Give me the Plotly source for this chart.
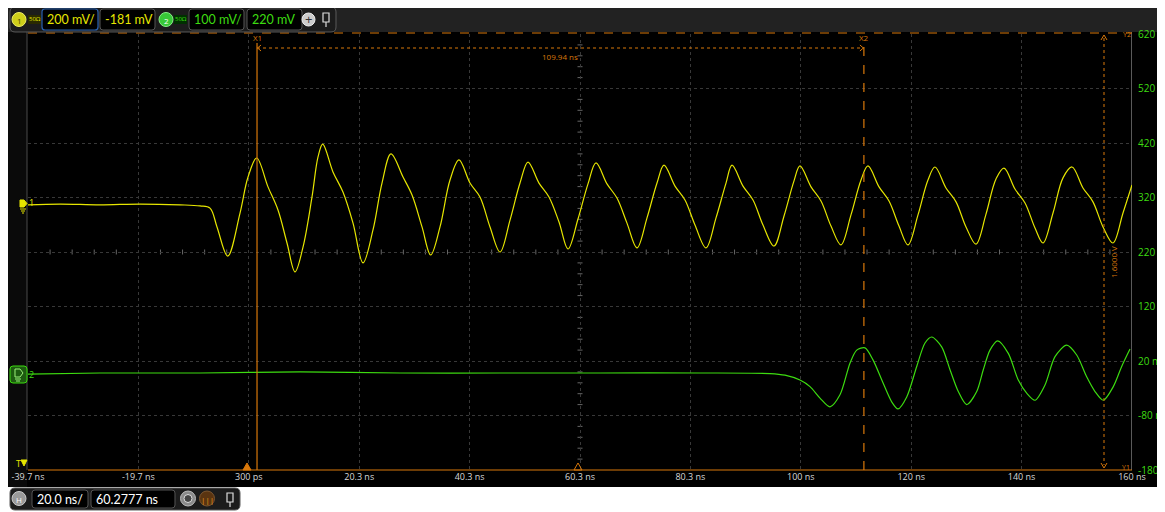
import plotly.graph_objects as go

W, H = 1157, 504                # figure size (page adds an 8 px body margin)
OFF = 8                         # page margin of the browser (screen px)
L, R, T, B = 28, 1132, 34, 470  # plot area bounds in screen pixels

# ---------------- data ----------------
# Channel 1 (yellow), time in ns, voltage in mV
t_ch1 = [-39.7, -33.9, -26.66, -19.41, -12.16, -8.54, -6.73, -5.46, -3.52, -1.29, 0.16, 1.73, 3.78, 5.59,
         7.22, 8.67, 10.12, 11.75, 12.84, 13.69, 15.55, 17.36, 19.18, 20.99, 22.8, 24.43, 26.06, 28.24, 29.87,
         31.68, 33.25, 34.94, 36.75, 38.38, 40.37, 42.18, 44.0, 45.81, 47.62, 49.43, 50.88, 52.87, 54.68, 56.5,
         58.13, 59.94, 61.75, 63.2, 65.19, 67.0, 68.81, 70.63, 72.44, 74.25, 75.52, 77.51, 79.32, 81.13, 83.13,
         84.94, 86.75, 87.84, 89.83, 91.64, 93.45, 95.44, 97.26, 99.07, 100.15, 102.15, 103.96, 105.77, 107.58,
         109.39, 111.21, 112.47, 114.47, 116.28, 118.09, 119.72, 121.53, 123.34, 124.61, 126.6, 128.42, 130.23,
         132.04, 133.85, 135.66, 137.11, 139.1, 140.92, 142.73, 144.18, 145.99, 147.8, 149.43, 151.42, 153.23,
         155.05, 156.86, 158.67, 160.3]
v_ch1 = [-8, -5, -8, -5, -8, -12, -20, -89, -196, -38, 94, 164, 58, -27, -148, -254, -163, 21, 168, 215, 113,
         39, -75, -221, -100, 72, 179, 94, 28, -89, -192, -89, 83, 157, 72, 21, -89, -181, -64, 72, 149, 72, 21,
         -71, -170, -60, 69, 146, 69, 17, -75, -166, -56, 72, 138, 61, 10, -82, -166, -56, 72, 138, 61, 10, -82,
         -159, -49, 80, 135, 58, 6, -86, -155, -45, 83, 135, 58, 6, -86, -155, -45, 83, 131, 54, 3, -89, -152,
         -42, 87, 127, 50, -1, -93, -148, -38, 91, 131, 54, 3, -89, -148, -38, 65]

# Channel 2 (green), time in ns, voltage in mV
t_ch2 = [-39.7, -26.66, -8.54, 9.58, 27.69, 45.81, 63.92, 82.04, 94.72, 97.44, 100.15, 101.97, 103.78, 105.59,
         107.4, 109.21, 110.43, 111.93, 113.38, 115.19, 116.77, 117.91, 119.49, 121.3, 122.8, 124.01, 125.82,
         127.33, 128.83, 130.35, 132.17, 133.36, 134.57, 135.97, 137.89, 139.7, 141.22, 142.73, 144.54, 146.35,
         148.47, 150.28, 152.09, 153.6, 155.1, 156.91, 158.43, 159.94]
v_ch2 = [-4, -2, -2, 0, -2, -2, -2, -2, -3, -6, -15, -27, -48, -64, -42, 16, 40, 44, 22, -20, -55, -68, -46,
         10, 53, 64, 46, 4, -36, -60, -36, 4, 40, 57, 34, -15, -39, -52, -24, 28, 49, 31, -9, -36, -52, -27,
         10, 42]

x_tickvals = [-39.7, -19.7, 0.3, 20.3, 40.3, 60.3, 80.3, 100.3, 120.3, 140.3, 160.3]
x_ticktext = ["-39.7 ns", "-19.7 ns", "300 ps", "20.3 ns", "40.3 ns", "60.3 ns", "80.3 ns",
              "100 ns", "120 ns", "140 ns", "160 ns"]
y_tickvals = [620, 520, 420, 320, 220, 120, 20, -80, -180]
y_ticktext = ["620 mV", "520 mV", "420 mV", "320 mV", "220 mV", "120 mV", "20 mV", "-80 mV", "-180 mV"]

ch1_scale, ch1_offset = 200, -181   # mV/div, mV
ch2_scale, ch2_offset = 100, 220
x1_cursor, x2_cursor = 1.79, 111.73
delta_x_label = "109.94 ns"
delta_y_label = "1.6000 V"

YEL = "#e6e600"
GRN = "#3ddc10"
ORG = "#d9780a"
FONT = "Open Sans"
UIFONT = "Lato"

# ---------------- helpers (screen pixel -> paper) ----------------
def fx(px):
    return (px - L) / (R - L)

def fy(py):
    return (B - py) / (B - T)

shapes = []
annos = []

def rect(x0, y0, x1, y1, fill, line=None, lw=1, layer="below"):
    shapes.append(dict(type="rect", xref="paper", yref="paper", x0=fx(x0), x1=fx(x1), y0=fy(y1), y1=fy(y0),
                       fillcolor=fill, line=dict(color=line or fill, width=lw if line else 0), layer=layer))

def rrect(x0, y0, x1, y1, r, fill, line, lw=1, layer="above"):
    def p(x, y):
        return f"{fx(x):.5f},{fy(y):.5f}"
    path = (f"M {p(x0 + r, y0)} L {p(x1 - r, y0)} Q {p(x1, y0)} {p(x1, y0 + r)} L {p(x1, y1 - r)} "
            f"Q {p(x1, y1)} {p(x1 - r, y1)} L {p(x0 + r, y1)} Q {p(x0, y1)} {p(x0, y1 - r)} "
            f"L {p(x0, y0 + r)} Q {p(x0, y0)} {p(x0 + r, y0)} Z")
    shapes.append(dict(type="path", xref="paper", yref="paper", path=path, fillcolor=fill,
                       line=dict(color=line, width=lw), layer=layer))

def circle(cx, cy, r, fill, line=None, lw=1):
    shapes.append(dict(type="circle", xref="paper", yref="paper", x0=fx(cx - r), x1=fx(cx + r),
                       y0=fy(cy + r), y1=fy(cy - r), fillcolor=fill,
                       line=dict(color=line or fill, width=lw), layer="above"))

def line(x0, y0, x1, y1, color, w=1, dash="solid", layer="above"):
    shapes.append(dict(type="line", xref="paper", yref="paper", x0=fx(x0), x1=fx(x1), y0=fy(y0), y1=fy(y1),
                       line=dict(color=color, width=w, dash=dash), layer=layer))

def poly(pts, fill, color, w=1, closed=True):
    path = "M " + " L ".join(f"{fx(x):.5f},{fy(y):.5f}" for x, y in pts) + (" Z" if closed else "")
    shapes.append(dict(type="path", xref="paper", yref="paper", path=path, fillcolor=fill,
                       line=dict(color=color, width=w), layer="above"))

def text(px, py, s, color, size, xanchor="center", angle=0, family=FONT, yanchor="middle"):
    annos.append(dict(xref="paper", yref="paper", x=fx(px), y=fy(py), text=s, showarrow=False,
                      font=dict(color=color, size=size, family=family), xanchor=xanchor, yanchor=yanchor,
                      textangle=angle))

# ---------------- background ----------------
rect(7, 32, 1175, 487, "#000000")          # scope screen
rect(7, 6, 1175, 32, "#222222")            # top strip
rect(7, 32, 27, 487, "#0a0a0a")            # left marker column
line(27, 32, 27, 470, "#4a4a4a", 1, layer="below")
line(1131.5, 32, 1131.5, 470, "#5a5a5a", 1, layer="below")

# ---------------- figure ----------------
fig = go.Figure()
fig.add_trace(go.Scatter(x=t_ch2, y=v_ch2, mode="lines", line=dict(color=GRN, width=1.2, shape="spline",
                                                                   smoothing=0.8),
                         yaxis="y", hoverinfo="skip", showlegend=False))
fig.add_trace(go.Scatter(x=t_ch1, y=v_ch1, mode="lines", line=dict(color=YEL, width=1.2, shape="spline",
                                                                   smoothing=1.0),
                         yaxis="y2", hoverinfo="skip", showlegend=False))

# center-line minor ticks (every 1/5 division)
xc = x_tickvals[5]
yc = ch2_offset
dx_unit = (x_tickvals[-1] - x_tickvals[0]) / 10 / 5
dy_unit = ch2_scale / 5
px_mv = (y_tickvals[0] - y_tickvals[-1]) / (B - T)
px_ns = (x_tickvals[-1] - x_tickvals[0]) / (R - L)
for i in range(-25, 26):
    if i % 5 == 0:
        continue
    tx = xc + i * dx_unit
    shapes.append(dict(type="line", xref="x", yref="y", x0=tx, x1=tx, y0=yc - 2.5 * px_mv, y1=yc + 2.5 * px_mv,
                       line=dict(color="#666666", width=1), layer="below"))
for j in range(-20, 21):
    if j % 5 == 0:
        continue
    ty = yc + j * dy_unit
    shapes.append(dict(type="line", xref="x", yref="y", x0=xc - 2.5 * px_ns, x1=xc + 2.5 * px_ns, y0=ty, y1=ty,
                       line=dict(color="#666666", width=1), layer="below"))

# ---------------- cursors ----------------
line(L, 33, R, 33, ORG, 1.2, dash="dash")
line(L, 470, R, 470, ORG, 1.2)
text(1127, 34, "Y2", ORG, 7)
text(1126, 467, "Y1", ORG, 7)
line(1104, 38, 1104, 465, ORG, 1, dash="dot")
poly([(1101, 40), (1104, 35), (1107, 40)], "rgba(0,0,0,0)", ORG, 1, closed=False)
poly([(1101, 463), (1104, 468), (1107, 463)], "rgba(0,0,0,0)", ORG, 1, closed=False)
text(1113, 262, delta_y_label, ORG, 8, angle=-90)

shapes.append(dict(type="line", xref="x", yref="paper", x0=x1_cursor, x1=x1_cursor, y0=0, y1=fy(43),
                   line=dict(color=ORG, width=1.2), layer="above"))
shapes.append(dict(type="line", xref="x", yref="paper", x0=x2_cursor, x1=x2_cursor, y0=0, y1=fy(45),
                   line=dict(color=ORG, width=1.2, dash="dash"), layer="above"))
shapes.append(dict(type="line", xref="x", yref="paper", x0=x1_cursor, x1=x2_cursor, y0=fy(48), y1=fy(48),
                   line=dict(color=ORG, width=1, dash="dot"), layer="above"))
x1px = L + (x1_cursor - x_tickvals[0]) / px_ns
x2px = L + (x2_cursor - x_tickvals[0]) / px_ns
poly([(x1px + 4, 45), (x1px + 0.5, 48), (x1px + 4, 51)], "rgba(0,0,0,0)", ORG, 1, closed=False)
poly([(x2px - 4, 45), (x2px - 0.5, 48), (x2px - 4, 51)], "rgba(0,0,0,0)", ORG, 1, closed=False)
text(x1px, 38, "X1", ORG, 8)
text(x2px, 38, "X2", ORG, 8)
text((x1px + x2px) / 2, 57, delta_x_label, ORG, 8)

poly([(243, 470), (247, 463), (251, 470)], ORG, ORG, 1)
poly([(574, 470), (578, 463), (582, 470)], "rgba(0,0,0,0)", ORG, 1)

# ---------------- left channel markers ----------------
poly([(20, 200), (24, 200), (27, 203.5), (24, 207), (20, 207)], YEL, YEL, 1)
line(20, 209, 26, 209, YEL, 1)
line(21, 211, 25, 211, YEL, 1)
line(22, 213, 24, 213, YEL, 1)
text(31, 203, "1", YEL, 9)
rrect(10, 366, 27, 383, 3, "#1d5a10", GRN, 1)
poly([(15, 369), (20, 369), (23, 373), (20, 377), (15, 377)], "rgba(0,0,0,0)", "#9cf07a", 1)
line(15, 379, 21, 379, "#9cf07a", 1)
line(16, 381, 20, 381, "#9cf07a", 1)
text(31, 374, "2", GRN, 9)
text(18, 463, "T", YEL, 9)
poly([(21, 460), (27, 460), (24, 466)], YEL, YEL, 1)

# ---------------- top toolbar ----------------
rrect(10, 7, 336, 32, 5, "#1c1c1c", "#5a5a5a", 1)
circle(19, 19.5, 7, "#cfcf1a", "#eeee66")
text(19, 20, "1", "#444400", 8)
rect(28, 15, 41, 24, "#2a2a00", layer="above")
text(34.5, 19.5, "50Ω", YEL, 6)
rrect(42, 9, 98, 30, 3, "#000000", "#2a62b0", 1.2)
text(45, 19.5, "200 mV/", YEL, 12.5, xanchor="left", family=UIFONT)
rrect(100, 9, 155, 30, 3, "#000000", "#555555", 1)
text(103, 19.5, "-181 mV", YEL, 12.5, xanchor="left", family=UIFONT)
circle(166, 19.5, 7, "#38c838", "#88ee88")
text(166, 20, "2", "#ffffff", 8)
rect(174, 15, 187, 24, "#003000", layer="above")
text(180.5, 19.5, "50Ω", GRN, 6)
rrect(189, 9, 244, 30, 3, "#000000", "#555555", 1)
text(192, 19.5, "100 mV/", GRN, 12.5, xanchor="left", family=UIFONT)
rrect(247, 9, 302, 30, 3, "#000000", "#555555", 1)
text(250, 19.5, "220 mV", GRN, 12.5, xanchor="left", family=UIFONT)
circle(308.5, 19.5, 6.5, "#cccccc", "#eeeeee")
text(308.5, 19.5, "+", "#333333", 13)
rect(323, 13, 329, 22, "rgba(0,0,0,0)", "#dddddd", 1.2, layer="above")
line(326, 22, 326, 27, "#dddddd", 1.2)

# ---------------- bottom toolbar ----------------
rect(7, 487, 1175, 530, "#ffffff")
rrect(10, 488, 240, 510, 5, "#1c1c1c", "#5a5a5a", 1)
circle(19, 498.5, 7, "#9a9a9a", "#cccccc")
text(19, 499, "H", "#ffffff", 8)
rrect(32, 490, 88, 508, 3, "#000000", "#555555", 1)
text(35, 499, "20.0 ns/", "#ffffff", 12.5, xanchor="left", family=UIFONT)
rrect(91, 490, 175, 508, 3, "#000000", "#555555", 1)
text(94, 499, "60.2777 ns", "#ffffff", 12.5, xanchor="left", family=UIFONT)
circle(188, 498.5, 7.5, "#8a8a8a", "#bbbbbb")
circle(188, 498.5, 4, "#444444", "#dddddd")
circle(207, 498.5, 7.5, "#5a3410", "#7a5530")
text(207, 499, "|||", "#e0a020", 8)
rect(227, 493, 233, 502, "rgba(0,0,0,0)", "#dddddd", 1.2, layer="above")
line(230, 502, 230, 507, "#dddddd", 1.2)

fig.update_layout(
    width=W, height=H,
    margin=dict(l=L - OFF, r=W - (R - OFF), t=T - OFF, b=H - (B - OFF), pad=0),
    paper_bgcolor="#ffffff",
    plot_bgcolor="rgba(0,0,0,0)",
    showlegend=False,
    xaxis=dict(range=[x_tickvals[0], x_tickvals[-1]], tickvals=x_tickvals, ticktext=x_ticktext,
               showgrid=True, gridcolor="#383838", griddash="3px,3px", gridwidth=1, zeroline=False,
               showline=False, ticks="", tickfont=dict(color="#d8d8d8", size=9, family=FONT),
               automargin=False, fixedrange=True),
    yaxis=dict(range=[y_tickvals[-1], y_tickvals[0]], tickvals=y_tickvals, ticktext=y_ticktext,
               side="right", showgrid=True, gridcolor="#383838", griddash="3px,3px", gridwidth=1,
               zeroline=False, showline=False, ticks="outside", ticklen=3, tickcolor="rgba(0,0,0,0)",
               tickfont=dict(color=GRN, size=10, family=FONT), automargin=False, fixedrange=True),
    yaxis2=dict(range=[ch1_offset - 4 * ch1_scale, ch1_offset + 4 * ch1_scale], overlaying="y",
                visible=False, fixedrange=True),
    shapes=shapes,
    annotations=annos,
)

fig.write_html("out.html")
